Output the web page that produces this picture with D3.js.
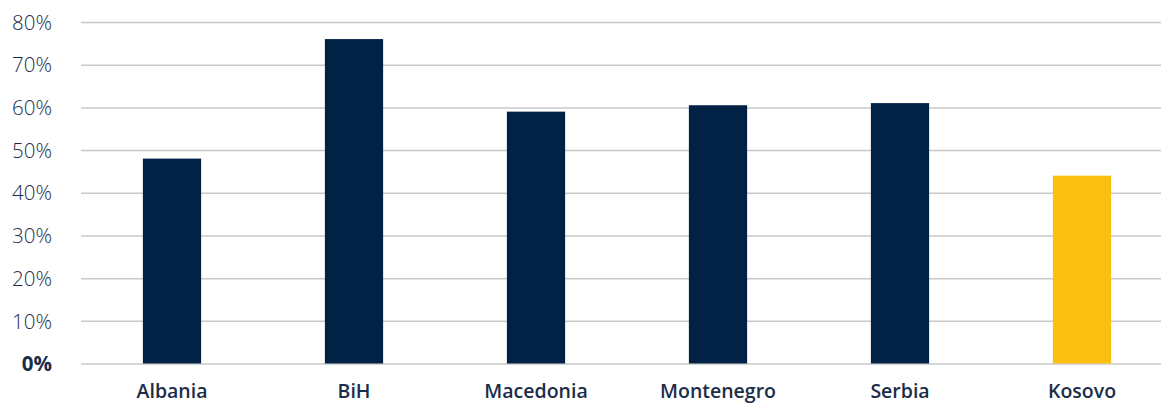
<!DOCTYPE html>
<html>
<head>
<meta charset="utf-8">
<script src="https://cdn.jsdelivr.net/npm/d3@7"></script>
<style>
  html, body { margin: 0; padding: 0; background: #ffffff; }
  svg { display: block; }
</style>
</head>
<body>
<svg id="chart" width="1161" height="403"></svg>
<script>
// Share by country (percent)
const countries = ["Albania", "BiH", "Macedonia", "Montenegro", "Serbia", "Kosovo"];
const shares = [48, 76, 59, 60.5, 61, 44];
const highlighted = ["Kosovo"];
const yTicks = [0, 10, 20, 30, 40, 50, 60, 70, 80];

const width = 1161, height = 403;
const plot = { left: 81, right: 1173, top: 22, bottom: 363.5 };
const navy = "#012245", gold = "#fbbf12", textColor = "#1b2d48";
const font = "'Open Sans', Lato, sans-serif";

const svg = d3.select("#chart");

const x = d3.scaleBand()
  .domain(countries)
  .range([plot.left, plot.right])
  .paddingInner(0.68)
  .paddingOuter(0.34);

const y = d3.scaleLinear()
  .domain([0, 80])
  .range([plot.bottom, plot.top]);

// Horizontal gridlines with percent labels on the left
const yAxis = d3.axisLeft(y)
  .tickValues(yTicks)
  .tickSize(0)
  .tickFormat(d => d + "%");

const gy = svg.append("g").attr("transform", `translate(${plot.left},0)`).call(yAxis);
gy.select(".domain").remove();
gy.selectAll(".tick line")
  .attr("x2", width - plot.left)
  .attr("stroke", "#c8c8c8")
  .attr("stroke-width", 1.5);
gy.selectAll(".tick text")
  .attr("x", -29)
  .attr("dy", "0.35em")
  .attr("fill", textColor)
  .style("font-family", font)
  .style("font-size", "20.5px")
  .style("font-weight", d => d === 0 ? 700 : 300);

// Bars
svg.append("g").selectAll("rect")
  .data(countries.map((c, i) => ({ c, v: shares[i] })))
  .join("rect")
  .attr("x", d => x(d.c))
  .attr("width", x.bandwidth())
  .attr("y", d => y(d.v))
  .attr("height", d => y(0) - y(d.v))
  .attr("fill", d => highlighted.includes(d.c) ? gold : navy);

// Category labels
const xAxis = d3.axisBottom(x).tickSize(0);
const gx = svg.append("g").attr("transform", `translate(0,${plot.bottom})`).call(xAxis);
gx.select(".domain").remove();
gx.selectAll(".tick text")
  .attr("y", 34.5)
  .attr("dy", 0)
  .attr("fill", textColor)
  .style("font-family", font)
  .style("font-size", "19.5px")
  .style("font-weight", 600);
</script>
</body>
</html>
